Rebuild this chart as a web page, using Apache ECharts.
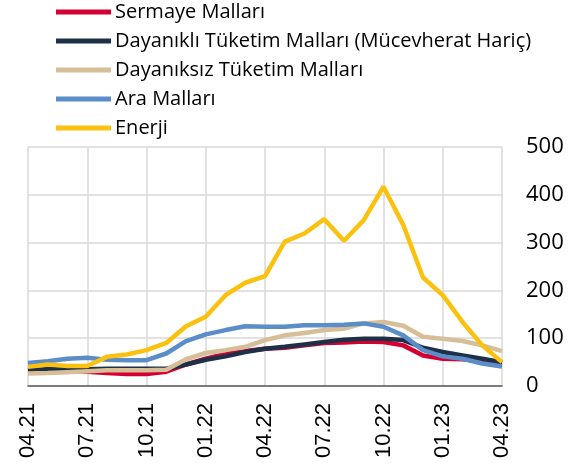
<!DOCTYPE html>
<html>
<head>
<meta charset="utf-8">
<script src="https://cdn.jsdelivr.net/npm/echarts@6/dist/echarts.min.js"></script>
<style>
html,body{margin:0;padding:0;background:#fff;}
#chart{width:586px;height:465px;}
</style>
</head>
<body>
<div id="chart"></div>
<script>
var categories = ["04.21","05.21","06.21","07.21","08.21","09.21","10.21","11.21","12.21","01.22","02.22","03.22","04.22","05.22","06.22","07.22","08.22","09.22","10.22","11.22","12.22","01.23","02.23","03.23","04.23"];
var seriesNames = ["Sermaye Malları","Dayanıklı Tüketim Malları (Mücevherat Hariç)","Dayanıksız Tüketim Malları","Ara Malları","Enerji"];
var sermaye    = [33,34,32,30,27,25,25,30,45,57,67,73,78,80,85,90,91,93,92,85,64,57,56,52,48];
var dayanikli  = [33,35,35,35,36,36,36,36,45,55,62,71,78,82,87,92,97,99,99,96,80,71,64,57,50];
var dayaniksiz = [26,27,29,31,33,33,33,34,56,69,75,82,96,106,111,117,120,131,134,126,103,99,94,85,73];
var ara        = [48,52,57,59,55,54,54,68,94,108,117,125,124,124,127,127,128,131,124,106,75,62,57,47,41];
var enerji     = [40,45,42,42,61,66,75,90,125,145,190,216,230,302,319,349,304,347,417,337,227,190,134,85,50];
var yTicks = [0,100,200,300,400,500];
var colors = ["#D50032","#1E3048","#D5BE98","#5B8DC9","#FAC20F"];

var allData = [sermaye, dayanikli, dayaniksiz, ara, enerji];
var chart = echarts.init(document.getElementById('chart'));
var series = seriesNames.map(function(n, k){
  return {
    name: n, type: 'line', data: allData[k], showSymbol: false, symbol: 'none',
    lineStyle: {width: 4.5, color: colors[k]}, itemStyle: {color: colors[k]},
    animation: false
  };
});
chart.setOption({
  animation: false,
  color: colors,
  legend: {
    orient: 'vertical', left: 56, top: 2, padding: 0, itemGap: 9,
    itemWidth: 55, itemHeight: 20,
    icon: 'path://M0,7.5 L55,7.5 L55,12.5 L0,12.5 Z',
    textStyle: {fontFamily: 'Open Sans', fontSize: 20, lineHeight: 20, color: '#000', padding: [0,0,0,-1]},
    data: seriesNames
  },
  grid: {left: 28, right: 84, top: 147, bottom: 79, containLabel: false},
  xAxis: {
    type: 'category', data: categories, boundaryGap: false,
    axisTick: {show: false},
    axisLine: {show: true, lineStyle: {color: '#595959', width: 1.5}},
    axisLabel: {interval: 2, rotate: 90, margin: 17, fontFamily: 'Liberation Sans', fontSize: 22, color: '#000'},
    splitLine: {show: true, interval: 2, lineStyle: {color: '#d9d9d9', width: 1.5}}
  },
  yAxis: {
    type: 'value', position: 'right', min: yTicks[0], max: yTicks[yTicks.length-1], interval: 100,
    axisLine: {show: false}, axisTick: {show: false},
    axisLabel: {margin: 24, fontFamily: 'Open Sans', fontSize: 22, color: '#000'},
    splitLine: {show: true, lineStyle: {color: '#d9d9d9', width: 1.5}}
  },
  series: series
});
</script>
</body>
</html>
